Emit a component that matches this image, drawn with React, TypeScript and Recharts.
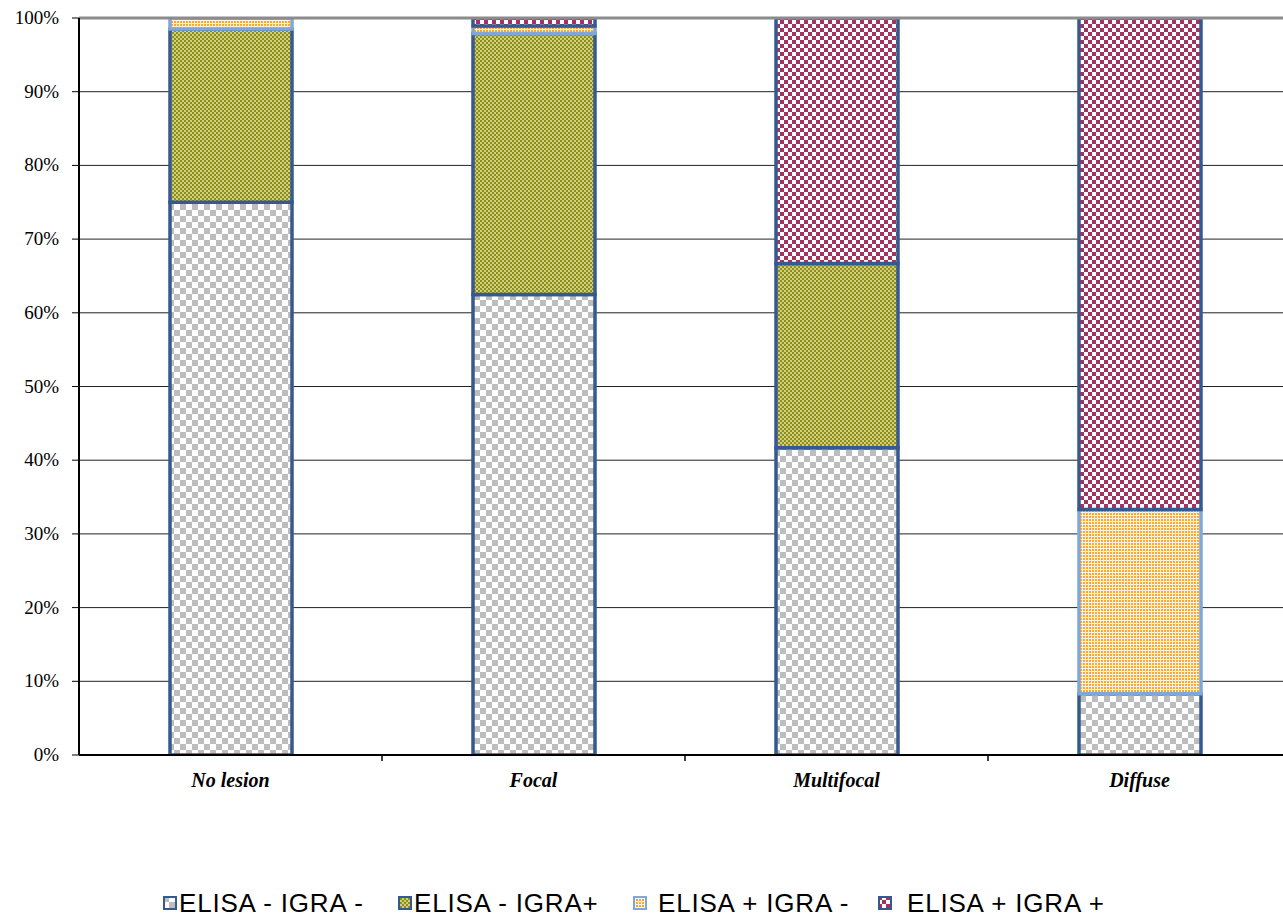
import React from "react";
import {
  BarChart,
  Bar,
  XAxis,
  YAxis,
  CartesianGrid,
  Legend,
  ReferenceLine,
} from "recharts";

const categories = ["No lesion", "Focal", "Multifocal", "Diffuse"];
const elisaNegIgraNeg = [75.0, 62.5, 41.7, 8.3];
const elisaNegIgraPos = [23.5, 35.4, 25.0, 0];
const elisaPosIgraNeg = [1.5, 1.0, 0, 25.0];
const elisaPosIgraPos = [0, 1.1, 33.3, 66.7];
const yTicks = [0, 10, 20, 30, 40, 50, 60, 70, 80, 90, 100];

const seriesNames = ["ELISA - IGRA -", "ELISA - IGRA+", "ELISA + IGRA -", "ELISA + IGRA +"];

const data = categories.map((name, i) => ({
  name,
  a: elisaNegIgraNeg[i],
  b: elisaNegIgraPos[i],
  c: elisaPosIgraNeg[i],
  d: elisaPosIgraPos[i],
}));

const W = 1295;
const H = 916;
const Y_W = 79;
const M_RIGHT = 4;
const band = (W - Y_W - M_RIGHT) / categories.length;

const serif = "'Liberation Serif', 'Times New Roman', serif";
const sans = "'Liberation Sans', Arial, sans-serif";
const BLUE = "#36598f";
const LIGHT_BLUE = "#7fa7d9";

const XTick = (props: any) => {
  const { x, y, payload } = props;
  return (
    <g>
      <line x1={x + band / 2} x2={x + band / 2} y1={y - 8} y2={y - 2} stroke="#000" strokeWidth={1.5} />
      <text
        x={x}
        y={y}
        dy={24}
        textAnchor="middle"
        fontFamily={serif}
        fontStyle="italic"
        fontWeight="bold"
        fontSize={20}
        fill="#000"
      >
        {payload.value}
      </text>
    </g>
  );
};

const YTick = (props: any) => {
  const { x, y, payload } = props;
  return (
    <text x={x} y={y} dy={6} textAnchor="end" fill="#000" fontFamily={serif} fontSize={19} fontWeight="normal">
      {`${payload.value}%`}
    </text>
  );
};

// legend slot offsets, like the excel legend
const legendLeft = [163, 398, 633, 878];
const legendGap = [2, 2, 11, 15];

const LegendContent = (props: any) => {
  const items = [...(props.payload || [])].sort(
    (p: any, q: any) => seriesNames.indexOf(p.value) - seriesNames.indexOf(q.value)
  );
  return (
    <div style={{ position: "relative", height: 30, width: W }}>
      {items.map((p: any, i: number) => (
        <div
          key={p.value}
          style={{
            position: "absolute",
            left: legendLeft[i],
            top: 0,
            display: "flex",
            alignItems: "center",
            height: 30,
            whiteSpace: "nowrap",
          }}
        >
          <svg width={14} height={14} style={{ marginRight: legendGap[i] }}>
            <rect x={1} y={1} width={12} height={12} fill={p.color} stroke={i === 2 ? LIGHT_BLUE : BLUE} strokeWidth={2} />
          </svg>
          <span style={{ fontFamily: sans, fontSize: 26, letterSpacing: 0.8, color: "#000" }}>{p.value}</span>
        </div>
      ))}
    </div>
  );
};

export default function App() {
  return (
    <div style={{ position: "absolute", left: 0, top: 0, width: 1283, height: H, overflow: "hidden", background: "#fff" }}>
      <BarChart
        width={W}
        height={H}
        data={data}
        margin={{ top: 18, right: M_RIGHT, left: 0, bottom: 81 }}
        barSize={122}
        style={{ fontFamily: serif }}
      >
        <defs>
          <pattern id="pGray" width={12} height={12} patternUnits="userSpaceOnUse">
            <rect width={12} height={12} fill="#ffffff" />
            <rect width={6} height={6} fill="#bdbdbd" />
            <rect x={6} y={6} width={6} height={6} fill="#bdbdbd" />
          </pattern>
          <pattern id="pGreen" width={4} height={4} patternUnits="userSpaceOnUse">
            <rect width={4} height={4} fill="#cfcf80" />
            <rect width={2} height={2} fill="#8e8e18" />
            <rect x={2} y={2} width={2} height={2} fill="#8e8e18" />
          </pattern>
          <pattern id="pOrange" width={3} height={3} patternUnits="userSpaceOnUse">
            <rect width={3} height={3} fill="#fff3dd" />
            <rect width={2} height={2} fill="#ffa733" />
          </pattern>
          <pattern id="pPink" width={8} height={8} patternUnits="userSpaceOnUse">
            <rect width={8} height={8} fill="#ffffff" />
            <rect width={4} height={4} fill="#a33462" />
            <rect x={4} y={4} width={4} height={4} fill="#a33462" />
          </pattern>
        </defs>
        <CartesianGrid vertical={false} stroke="#222" strokeWidth={1} />
        <XAxis
          dataKey="name"
          height={50}
          axisLine={{ stroke: "#000", strokeWidth: 2 }}
          tickLine={false}
          tick={<XTick />}
          interval={0}
        />
        <YAxis
          width={Y_W}
          domain={[0, 100]}
          ticks={yTicks}
          axisLine={{ stroke: "#000", strokeWidth: 2 }}
          tickLine={{ stroke: "#000" }}
          tickSize={7}
          tickMargin={13}
          tick={<YTick />}
          allowDataOverflow
        />
        <ReferenceLine y={100} stroke="#8c8c8c" strokeWidth={3} />
        <Bar dataKey="a" name={seriesNames[0]} stackId="s" fill="url(#pGray)" stroke={BLUE} strokeWidth={3.5} isAnimationActive={false} />
        <Bar dataKey="b" name={seriesNames[1]} stackId="s" fill="url(#pGreen)" stroke={BLUE} strokeWidth={3.5} isAnimationActive={false} />
        <Bar dataKey="c" name={seriesNames[2]} stackId="s" fill="url(#pOrange)" stroke={LIGHT_BLUE} strokeWidth={3.5} isAnimationActive={false} />
        <Bar dataKey="d" name={seriesNames[3]} stackId="s" fill="url(#pPink)" stroke={BLUE} strokeWidth={3.5} isAnimationActive={false} />
        <Legend
          verticalAlign="bottom"
          content={<LegendContent />}
          wrapperStyle={{ top: 888, left: 0, width: W }}
        />
      </BarChart>
    </div>
  );
}
